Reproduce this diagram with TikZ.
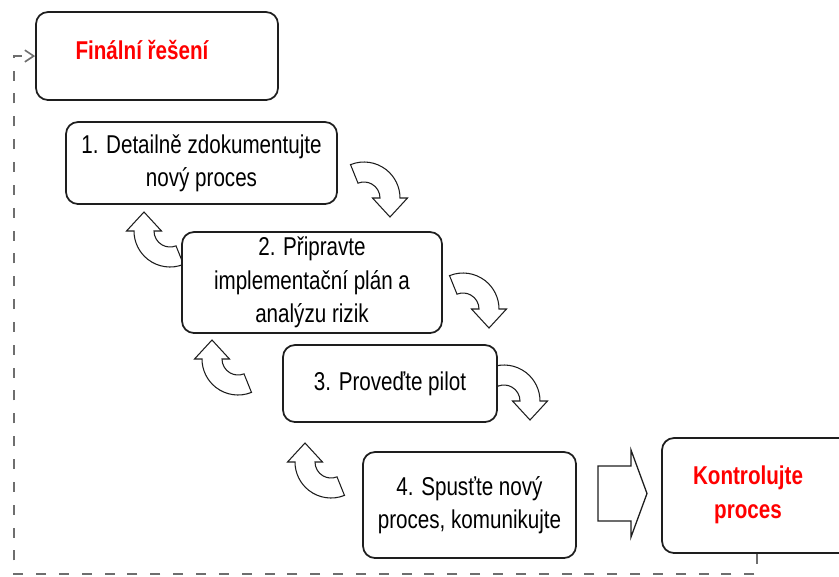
\documentclass[tikz,border=0pt]{standalone}
\usepackage{fontspec}
\setmainfont{Liberation Sans}
\newfontfamily\narrowsans[FakeStretch=0.8]{Liberation Sans}
\usetikzlibrary{arrows.meta}

\definecolor{edge}{RGB}{30,30,30}
\definecolor{loopgrey}{RGB}{110,110,110}
\definecolor{alertred}{RGB}{255,0,0}

\tikzset{
  stepbox/.style={draw=edge, line width=1.5pt, rounded corners=0.36cm, fill=white,
    inner sep=0pt, align=center,
    font=\narrowsans\fontsize{22}{28.5}\selectfont},
  redlabel/.style={inner sep=0pt, align=center, text=alertred,
    font=\narrowsans\bfseries\fontsize{22}{29}\selectfont},
  arrowline/.style={draw=edge, line width=0.9pt, fill=white, line join=miter},
  feedback/.style={draw=loopgrey, line width=1.6pt, dash pattern=on 8.5pt off 11pt},
  bendarrow/.pic={
    \path[arrowline] (-112:36) arc[start angle=-112, end angle=0, radius=36]
      -- (43.5,0) -- (26,19) -- (8.5,0) -- (16,0)
      arc[start angle=0, end angle=-112, radius=16] -- cycle;
  }
}

\begin{document}
\begin{tikzpicture}[x=0.03cm, y=-0.03cm]
\useasboundingbox (0,0) rectangle (839,576);
\clip (0,0) rectangle (839,576);

% curved arrows running down the staircase
\pic at (364,198) {bendarrow};
\pic at (463,309) {bendarrow};
\pic at (504,401) {bendarrow};
% curved arrows running back up
\pic[rotate=180] at (170,231) {bendarrow};
\pic[rotate=180] at (238,359) {bendarrow};
\pic[rotate=180] at (331,462) {bendarrow};

% final solution box
\node[stepbox, minimum width=242*0.03cm, minimum height=88*0.03cm] (fin) at (157,56) {};
\node[redlabel] (fintext) at (142,50) {Finální řešení};

% the four steps
\node[stepbox, minimum width=271*0.03cm, minimum height=82*0.03cm] (s1) at (201.5,163)
  {1. Detailně zdokumentujte\\nový proces};
\node[stepbox, minimum width=260*0.03cm, minimum height=101*0.03cm] (s2) at (312,282.5)
  {2. Připravte\\implementační plán a\\analýzu rizik};
\node[stepbox, minimum width=214*0.03cm, minimum height=77*0.03cm] (s3) at (390,383.5)
  {3. Proveďte pilot};
\node[stepbox, minimum width=213*0.03cm, minimum height=106*0.03cm] (s4) at (469.5,505)
  {4. Spusťte nový\\proces, komunikujte};

% control box
\node[stepbox, minimum width=218*0.03cm, minimum height=115*0.03cm] (ctl) at (771,495.5) {};
\node[redlabel] (ctltext) at (748,495) {Kontrolujte\\proces};

% block arrow from step 4 to control
\path[draw=edge, line width=1.1pt, fill=white, line join=miter]
  (598,466) -- (631,466) -- (631,450) -- (647,493.5) -- (631,537)
  -- (631,521) -- (598,521) -- cycle;

% feedback loop back to the final solution
\coordinate (fbx) at (757,0);
\draw[feedback, -{Straight Barb[length=7.5pt, width=10pt, line width=1.4pt]}]
  (fbx |- ctl.south) |- (14,574) |- (fin.west);
\end{tikzpicture}
\end{document}
